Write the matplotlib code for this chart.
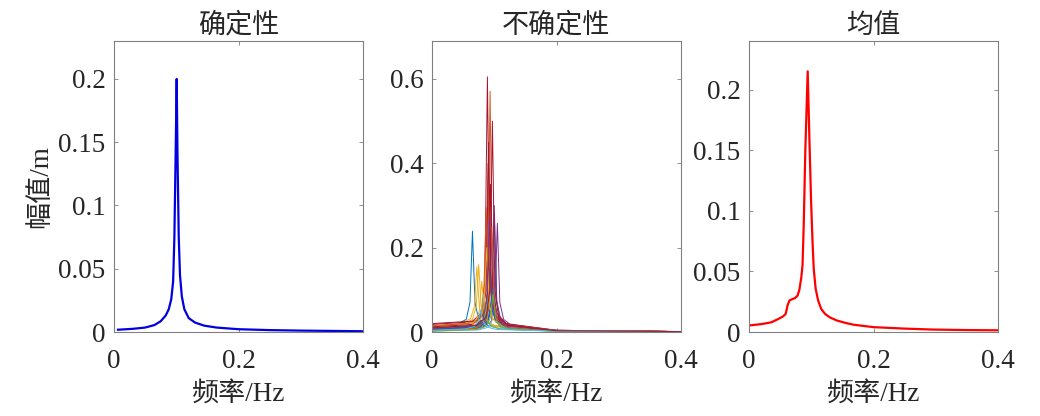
import matplotlib
matplotlib.use("Agg")
import matplotlib.pyplot as plt

plt.rcParams['font.family'] = ['Liberation Serif', 'Noto Sans CJK SC', 'DejaVu Sans']

# ---------------- data ----------------
titles = ["确定性", "不确定性", "均值"]
xlabel = "频率/Hz"
ylabel = "幅值/m"

det_f = [0.0064, 0.030, 0.050, 0.065, 0.075, 0.083, 0.088, 0.092, 0.095, 0.097,
         0.099, 0.1007, 0.102, 0.104, 0.106, 0.109, 0.113, 0.120, 0.130, 0.145,
         0.165, 0.200, 0.250, 0.300, 0.400]
det_a = [0.0018, 0.0025, 0.0035, 0.0055, 0.0085, 0.013, 0.018, 0.026, 0.040, 0.075,
         0.140, 0.200, 0.140, 0.075, 0.045, 0.028, 0.018, 0.011, 0.0075, 0.005,
         0.0035, 0.0022, 0.0015, 0.0011, 0.0006]

mean_f = [0.002, 0.020, 0.036, 0.047, 0.055, 0.059, 0.062, 0.065, 0.069, 0.074,
          0.078, 0.081, 0.084, 0.086, 0.088, 0.0905, 0.0943, 0.097, 0.0996, 0.102,
          0.104, 0.107, 0.111, 0.116, 0.122, 0.130, 0.141, 0.155, 0.168, 0.200,
          0.250, 0.296, 0.350, 0.400]
mean_a = [0.0055, 0.0065, 0.008, 0.0107, 0.013, 0.015, 0.022, 0.026, 0.027, 0.028,
          0.030, 0.035, 0.045, 0.055, 0.090, 0.150, 0.215, 0.160, 0.110, 0.075,
          0.052, 0.036, 0.026, 0.019, 0.015, 0.012, 0.0095, 0.0075, 0.006, 0.004,
          0.0028, 0.002, 0.0016, 0.0014]

unc_f = [
    [0, .040, .055, .061, .065, .069, .075, .090, .2, .4],
    [0, .068, .083, .089, .0933, .097, .103, .118, .2, .4],
    [0, .047, .062, .068, .072, .076, .082, .097, .2, .4],
    [0, .080, .095, .101, .105, .109, .115, .130, .2, .4],
    [0, .070, .085, .091, .095, .099, .105, .120, .2, .4],
    [0, .073, .088, .094, .098, .102, .108, .123, .2, .4],
    [0, .064, .079, .085, .089, .093, .099, .114, .2, .4],
    [0, .075, .090, .096, .100, .104, .110, .125, .2, .4],
    [0, .062, .077, .083, .087, .091, .097, .112, .2, .4],
    [0, .050, .065, .071, .075, .079, .085, .100, .2, .4],
    [0, .075, .090, .096, .100, .104, .110, .125, .2, .4],
    [0, .067, .082, .088, .092, .096, .102, .117, .2, .4],
    [0, .058, .073, .079, .083, .087, .093, .108, .2, .4],
    [0, .069, .084, .090, .094, .098, .104, .119, .2, .4],
    [0, .072, .087, .093, .097, .101, .107, .122, .2, .4],
    [0, .065, .080, .086, .090, .094, .100, .115, .2, .4],
    [0, .055, .070, .076, .080, .084, .090, .105, .2, .4],
    [0, .071, .086, .092, .096, .100, .106, .121, .2, .4],
    [0, .060, .075, .081, .085, .089, .095, .110, .2, .4],
    [0, .075, .090, .096, .100, .104, .110, .125, .2, .4],
    [0, .066, .081, .087, .091, .095, .101, .116, .2, .4],
    [0, .068, .083, .089, .093, .097, .103, .118, .2, .4],
    [0, .071, .086, .092, .096, .100, .106, .121, .2, .4],
    [0, .063, .078, .084, .088, .092, .098, .113, .2, .4],
    [0, .067, .082, .088, .092, .096, .102, .117, .2, .4],
    [0, .073, .088, .094, .098, .102, .108, .123, .2, .4],
    [0, .053, .068, .074, .078, .082, .088, .103, .2, .4],
    [0, .072, .087, .093, .097, .101, .107, .122, .2, .4],
]
unc_a = [
    [.012, .018, .030, .070, .239, .070, .030, .015, .003, .001],
    [.006, .012, .030, .090, .571, .100, .035, .014, .003, .001],
    [.015, .020, .032, .060, .155, .060, .030, .016, .003, .001],
    [.004, .010, .025, .070, .258, .070, .030, .013, .004, .001],
    [.008, .012, .022, .050, .120, .050, .022, .011, .003, .001],
    [.005, .010, .025, .060, .180, .060, .025, .012, .003, .001],
    [.018, .024, .045, .120, .605, .120, .045, .020, .004, .001],
    [.006, .011, .026, .070, .280, .070, .028, .013, .003, .001],
    [.010, .016, .032, .080, .294, .080, .032, .015, .003, .001],
    [.012, .018, .030, .060, .160, .060, .028, .014, .003, .001],
    [.007, .012, .028, .075, .300, .075, .030, .014, .003, .001],
    [.004, .009, .024, .060, .200, .060, .024, .011, .003, .001],
    [.003, .007, .016, .035, .090, .035, .016, .008, .002, .001],
    [.020, .026, .045, .100, .350, .100, .045, .020, .004, .001],
    [.005, .009, .018, .040, .100, .040, .018, .009, .002, .001],
    [.015, .021, .040, .100, .400, .100, .040, .018, .004, .001],
    [.009, .014, .025, .050, .120, .050, .024, .012, .003, .001],
    [.006, .011, .026, .065, .220, .065, .026, .012, .003, .001],
    [.003, .006, .013, .030, .070, .030, .013, .007, .002, .001],
    [.002, .005, .011, .025, .060, .025, .011, .006, .002, .001],
    [.012, .018, .038, .100, .450, .100, .038, .017, .003, .001],
    [.008, .012, .024, .050, .150, .050, .024, .012, .003, .001],
    [.004, .009, .024, .065, .250, .065, .026, .012, .003, .001],
    [.010, .015, .030, .065, .200, .065, .030, .014, .003, .001],
    [.009, .014, .030, .075, .270, .075, .030, .014, .003, .001],
    [.002, .006, .014, .035, .090, .035, .014, .007, .002, .001],
    [.004, .007, .013, .025, .050, .025, .012, .006, .002, .001],
    [.010, .016, .035, .100, .500, .100, .035, .016, .003, .001],
]
matlab_colors = ['#0072BD', '#D95319', '#EDB120', '#7E2F8E', '#77AC30', '#4DBEEE', '#A2142F']

xticks = [0, 0.2, 0.4]
xticklabels = ["0", "0.2", "0.4"]
yticks_small = [0, 0.05, 0.1, 0.15, 0.2]
yticklabels_small = ["0", "0.05", "0.1", "0.15", "0.2"]
yticks_mid = [0, 0.2, 0.4, 0.6]
yticklabels_mid = ["0", "0.2", "0.4", "0.6"]

# ---------------- figure ----------------
fig = plt.figure(figsize=(10.4, 4.16), dpi=100)
lefts = [114/1040, 432/1040, 749/1040]
w = 249/1040
b = 1 - 332/416
h = 291/416
axes = [fig.add_axes([l, b, w, h]) for l in lefts]

fs = 19.5
txtc = '#262626'

def style(ax, yt, ytl, ylim):
    ax.set_xlim(0, 0.4)
    ax.set_ylim(*ylim)
    ax.set_xticks(xticks)
    ax.set_xticklabels(xticklabels)
    ax.set_yticks(yt)
    ax.set_yticklabels(ytl)
    ax.tick_params(direction='in', length=3, width=0.6, color='#808080',
                   top=True, right=True, labelsize=fs, labelcolor=txtc)
    ax.tick_params(axis='x', pad=12)
    ax.tick_params(axis='y', pad=6)
    for s in ax.spines.values():
        s.set_color('#808080')
        s.set_linewidth(0.8)
    ax.set_xlabel(xlabel, fontsize=fs, color=txtc, labelpad=6)

ax = axes[0]
ax.plot(det_f, det_a, color='#0000E0', lw=1.6)
style(ax, yticks_small, yticklabels_small, (0, 0.23))
ax.set_ylabel(ylabel, fontsize=fs, color=txtc, labelpad=4)
ax.set_title(titles[0], fontsize=fs, color=txtc, pad=6)

ax = axes[1]
for i, (f, a) in enumerate(zip(unc_f, unc_a)):
    ax.plot(f, a, color=matlab_colors[i % 7], lw=0.7)
style(ax, yticks_mid, yticklabels_mid, (0, 0.69))
ax.set_title(titles[1], fontsize=fs, color=txtc, pad=6)

ax = axes[2]
ax.plot(mean_f, mean_a, color='#FF0000', lw=1.6)
style(ax, yticks_small, yticklabels_small, (0, 0.24))
ax.set_title(titles[2], fontsize=fs, color=txtc, pad=6)

fig.savefig("out.png", dpi=100)
